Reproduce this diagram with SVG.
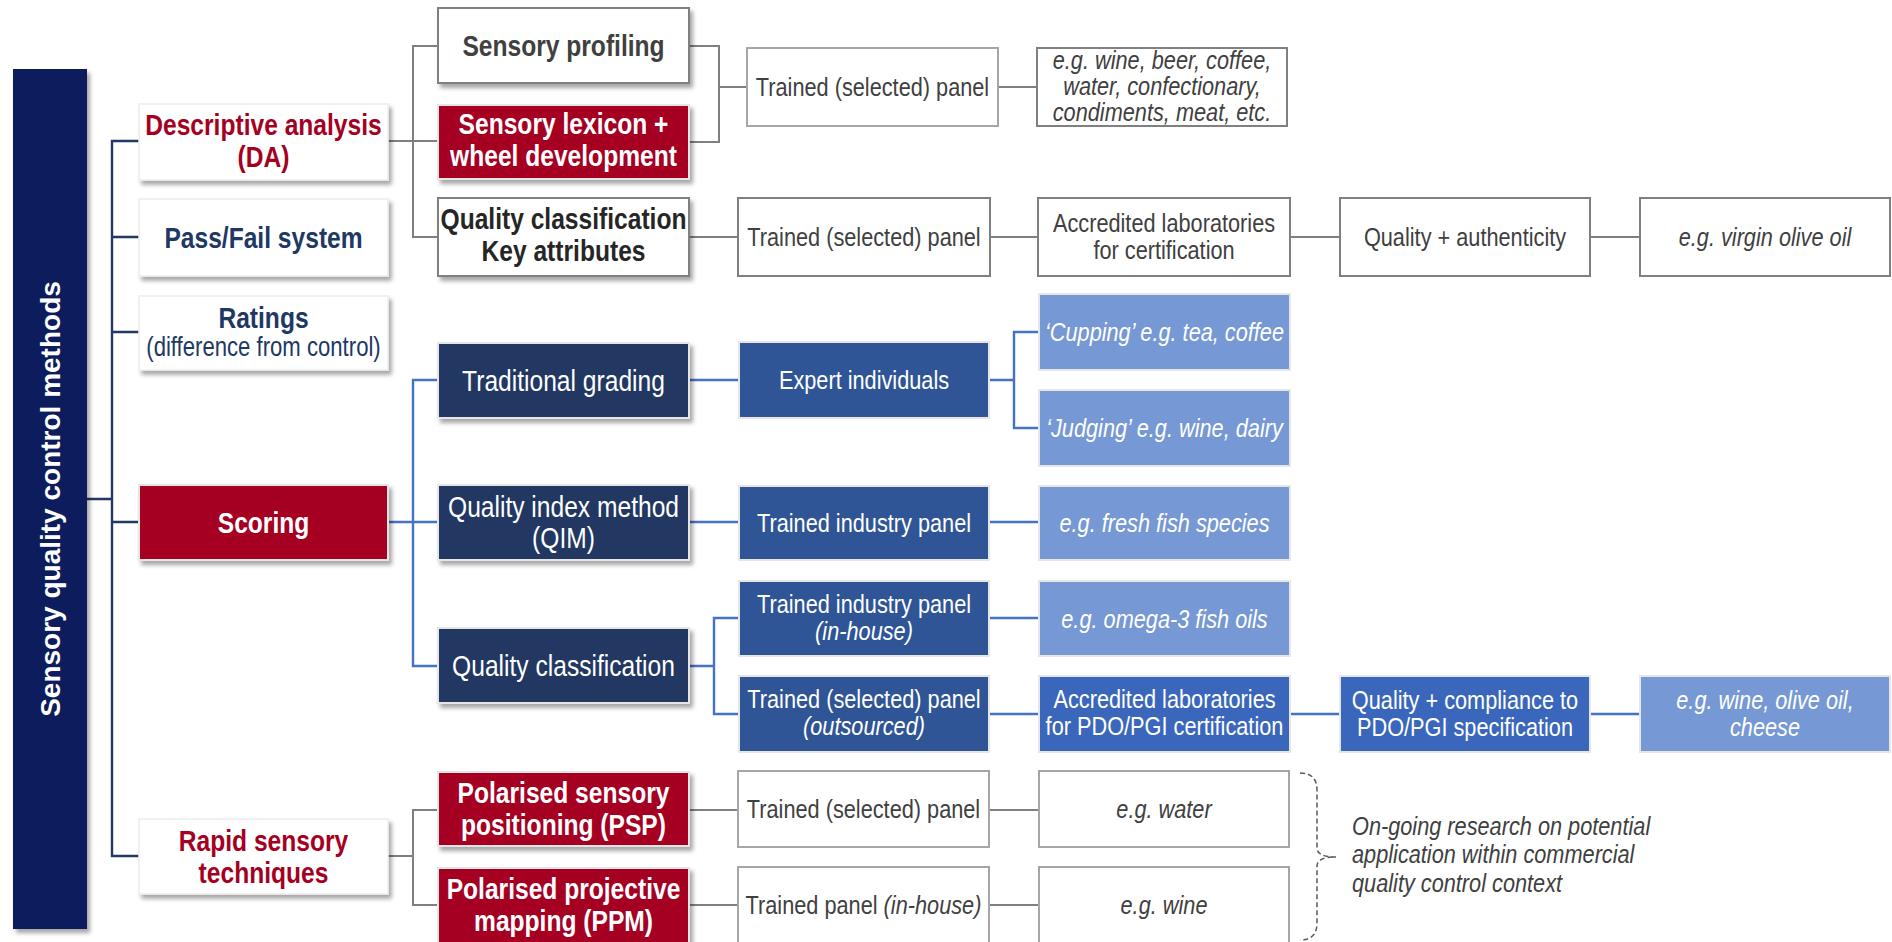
<svg xmlns="http://www.w3.org/2000/svg" width="1892" height="942" viewBox="0 0 1892 942">
<style>
text{font-family:"Liberation Sans",Arial,sans-serif;text-anchor:middle}
.b{font-weight:bold;font-size:30px}
.r{font-size:26.5px}
.rl{font-size:30px}
.i{font-style:italic;font-size:26.5px}
.red{fill:#A50021}.nav{fill:#203864}.wh{fill:#fff}.gr{fill:#404040}.dk{fill:#262626}
.c{fill:none;stroke-width:2}
.cg{stroke:#7F7F7F}.cb{stroke:#4472C4;stroke-width:2.4}.cn{stroke:#1F3864;stroke-width:2.4}
.bw{fill:#fff;stroke:#EDEDED;stroke-width:1.5}
.bo{fill:#fff;stroke:#808080;stroke-width:2}
.bl{fill:#fff;stroke:#A6A6A6;stroke-width:2}
.fr{fill:#A50021;stroke:#E6E6E6;stroke-width:2}
.fn{fill:#203864;stroke:#E6E6E6;stroke-width:2}
.fm{fill:#2F5597;stroke:#E6E6E6;stroke-width:2}
.fb{fill:#3A67BB;stroke:#E6E6E6;stroke-width:2}
.fl{fill:#7698D4;stroke:#E6E6E6;stroke-width:2}
</style>
<defs>
<filter id="sh" x="-10%" y="-10%" width="130%" height="140%">
<feDropShadow dx="3" dy="4" stdDeviation="2" flood-color="#000" flood-opacity="0.35"/>
</filter>
</defs>
<rect width="1892" height="942" fill="#fff"/>

<g id="connectors">
<path class="c cn" d="M87,499 H112 M139,141 H112 V856 H139 M112,237 H139 M112,332 H139 M112,522 H139"/>
<path class="c cg" d="M388,141 H438 M438,46 H413 V237 H438 M689,46 H719 V142 H689 M719,87 H747 M998,87 H1037 M689,237 H738 M990,237 H1038 M1290,237 H1340 M1590,237 H1640"/>
<path class="c cb" d="M388,522 H438 M438,380 H413 V666 H438 M689,380 H739 M989,380 H1014 M1039,332 H1014 V428 H1039 M689,522 H739 M989,522 H1039 M689,666 H714 M739,618 H714 V714 H739 M989,618 H1039 M989,714 H1039 M1290,714 H1340 M1590,714 H1640"/>
<path class="c cg" d="M388,856 H413 M438,810 H413 V905 H438 M689,810 H738 M989,810 H1039 M689,905 H738 M989,905 H1039"/>
<path fill="none" stroke="#595959" stroke-width="1.5" stroke-dasharray="5,3" d="M1300,773 Q1317,773 1317,790 V848 Q1317,857 1336,857 Q1317,857 1317,866 V923 Q1317,940 1300,940"/>
</g>

<g id="title">
<rect x="13" y="69" width="74" height="860" fill="#0B1F5C" filter="url(#sh)"/>
<text class="wh" font-weight="bold" font-size="28" transform="translate(60 499) rotate(-90)">Sensory quality control methods</text>
</g>

<g id="descriptive-analysis">
<rect class="bw" x="139" y="104" width="249" height="76" filter="url(#sh)"/>
<text class="b red" transform="translate(263.5 0) scale(.82 1)"><tspan x="0" y="135.5">Descriptive analysis</tspan><tspan x="0" y="167.5">(DA)</tspan></text>
</g>
<g id="pass-fail">
<rect class="bw" x="139" y="199" width="249" height="77" filter="url(#sh)"/>
<text class="b nav" transform="translate(263.5 0) scale(.82 1)" y="248">Pass/Fail system</text>
</g>
<g id="ratings">
<rect class="bw" x="139" y="296" width="249" height="74" filter="url(#sh)"/>
<text class="b nav" transform="translate(263.5 0) scale(.82 1)" y="328">Ratings</text>
<text class="nav" font-size="27" transform="translate(263.5 0) scale(.82 1)" y="356">(difference from control)</text>
</g>
<g id="scoring">
<rect class="fr" x="139" y="485" width="249" height="75" filter="url(#sh)"/>
<text class="b wh" transform="translate(263.5 0) scale(.82 1)" y="533">Scoring</text>
</g>
<g id="rapid">
<rect class="bw" x="139" y="819" width="249" height="75" filter="url(#sh)"/>
<text class="b red" transform="translate(263.5 0) scale(.82 1)"><tspan x="0" y="851">Rapid sensory</tspan><tspan x="0" y="883">techniques</tspan></text>
</g>

<g id="sensory-profiling">
<rect class="bo" x="438" y="8" width="251" height="75" filter="url(#sh)"/>
<text class="b gr" transform="translate(563.5 0) scale(.82 1)" y="56">Sensory profiling</text>
</g>
<g id="lexicon">
<rect class="fr" x="438" y="105" width="251" height="74" filter="url(#sh)"/>
<text class="b wh" transform="translate(563.5 0) scale(.82 1)"><tspan x="0" y="134">Sensory lexicon +</tspan><tspan x="0" y="166">wheel development</tspan></text>
</g>
<g id="quality-key">
<rect class="bo" x="438" y="198" width="251" height="78" filter="url(#sh)"/>
<text class="b dk" transform="translate(563.5 0) scale(.82 1)"><tspan x="0" y="229">Quality classification</tspan><tspan x="0" y="261">Key attributes</tspan></text>
</g>
<g id="traditional-grading">
<rect class="fn" x="438" y="343" width="251" height="75" filter="url(#sh)"/>
<text class="rl wh" transform="translate(563.5 0) scale(.82 1)" y="391">Traditional grading</text>
</g>
<g id="qim">
<rect class="fn" x="438" y="485" width="251" height="75" filter="url(#sh)"/>
<text class="rl wh" transform="translate(563.5 0) scale(.82 1)"><tspan x="0" y="517">Quality index method</tspan><tspan x="0" y="548">(QIM)</tspan></text>
</g>
<g id="quality-classification">
<rect class="fn" x="438" y="628" width="251" height="75" filter="url(#sh)"/>
<text class="rl wh" transform="translate(563.5 0) scale(.82 1)" y="676">Quality classification</text>
</g>
<g id="psp">
<rect class="fr" x="438" y="772" width="251" height="74" filter="url(#sh)"/>
<text class="b wh" transform="translate(563.5 0) scale(.82 1)"><tspan x="0" y="803">Polarised sensory</tspan><tspan x="0" y="835">positioning (PSP)</tspan></text>
</g>
<g id="ppm">
<rect class="fr" x="438" y="868" width="251" height="76" filter="url(#sh)"/>
<text class="b wh" transform="translate(563.5 0) scale(.82 1)"><tspan x="0" y="899">Polarised projective</tspan><tspan x="0" y="931">mapping (PPM)</tspan></text>
</g>

<g id="panel-1">
<rect class="bl" x="747" y="48" width="251" height="78"/>
<text class="r gr" transform="translate(872.5 0) scale(.82 1)" y="96">Trained (selected) panel</text>
</g>
<g id="examples-1">
<rect class="bo" x="1037" y="48" width="250" height="78"/>
<text class="i gr" transform="translate(1162 0) scale(.82 1)"><tspan x="0" y="69">e.g. wine, beer, coffee,</tspan><tspan x="0" y="95">water, confectionary,</tspan><tspan x="0" y="121">condiments, meat, etc.</tspan></text>
</g>
<g id="panel-2">
<rect class="bo" x="738" y="198" width="252" height="78"/>
<text class="r gr" transform="translate(864 0) scale(.82 1)" y="246">Trained (selected) panel</text>
</g>
<g id="accredited-1">
<rect class="bo" x="1038" y="198" width="252" height="78"/>
<text class="r gr" transform="translate(1164 0) scale(.82 1)"><tspan x="0" y="232">Accredited laboratories</tspan><tspan x="0" y="259">for certification</tspan></text>
</g>
<g id="quality-authenticity">
<rect class="bo" x="1340" y="198" width="250" height="78"/>
<text class="r gr" transform="translate(1465 0) scale(.82 1)" y="246">Quality + authenticity</text>
</g>
<g id="virgin-olive-oil">
<rect class="bo" x="1640" y="198" width="250" height="78"/>
<text class="i gr" transform="translate(1765 0) scale(.82 1)" y="246">e.g. virgin olive oil</text>
</g>

<g id="expert">
<rect class="fm" x="739" y="342" width="250" height="76"/>
<text class="r wh" transform="translate(864 0) scale(.82 1)" y="389.5">Expert individuals</text>
</g>
<g id="cupping">
<rect class="fl" x="1039" y="294" width="251" height="76"/>
<text class="i wh" transform="translate(1164.5 0) scale(.82 1)" y="341">‘Cupping’ e.g. tea, coffee</text>
</g>
<g id="judging">
<rect class="fl" x="1039" y="390" width="251" height="76"/>
<text class="i wh" transform="translate(1164.5 0) scale(.82 1)" y="437">‘Judging’ e.g. wine, dairy</text>
</g>
<g id="industry-panel">
<rect class="fm" x="739" y="486" width="250" height="74"/>
<text class="r wh" transform="translate(864 0) scale(.82 1)" y="532">Trained industry panel</text>
</g>
<g id="fresh-fish">
<rect class="fl" x="1039" y="486" width="251" height="74"/>
<text class="i wh" transform="translate(1164.5 0) scale(.82 1)" y="532">e.g. fresh fish species</text>
</g>
<g id="industry-inhouse">
<rect class="fm" x="739" y="581" width="250" height="75"/>
<text class="r wh" transform="translate(864 0) scale(.82 1)"><tspan x="0" y="613">Trained industry panel</tspan><tspan x="0" y="640" font-style="italic">(in-house)</tspan></text>
</g>
<g id="omega3">
<rect class="fl" x="1039" y="581" width="251" height="75"/>
<text class="i wh" transform="translate(1164.5 0) scale(.82 1)" y="628">e.g. omega-3 fish oils</text>
</g>
<g id="panel-outsourced">
<rect class="fm" x="739" y="676" width="250" height="76"/>
<text class="r wh" transform="translate(864 0) scale(.82 1)"><tspan x="0" y="708">Trained (selected) panel</tspan><tspan x="0" y="735" font-style="italic">(outsourced)</tspan></text>
</g>
<g id="accredited-pdo">
<rect class="fb" x="1039" y="676" width="251" height="76"/>
<text class="r wh" transform="translate(1164.5 0) scale(.82 1)"><tspan x="0" y="708">Accredited laboratories</tspan><tspan x="0" y="735">for PDO/PGI certification</tspan></text>
</g>
<g id="quality-compliance">
<rect class="fb" x="1340" y="676" width="250" height="76"/>
<text class="r wh" transform="translate(1465 0) scale(.82 1)"><tspan x="0" y="709">Quality + compliance to</tspan><tspan x="0" y="736">PDO/PGI specification</tspan></text>
</g>
<g id="wine-olive-cheese">
<rect class="fl" x="1640" y="676" width="250" height="76"/>
<text class="i wh" transform="translate(1765 0) scale(.82 1)"><tspan x="0" y="709">e.g. wine, olive oil,</tspan><tspan x="0" y="736">cheese</tspan></text>
</g>

<g id="panel-psp">
<rect class="bl" x="738" y="771" width="251" height="76"/>
<text class="r gr" transform="translate(863.5 0) scale(.82 1)" y="818">Trained (selected) panel</text>
</g>
<g id="water">
<rect class="bl" x="1039" y="771" width="250" height="76"/>
<text class="i gr" transform="translate(1164 0) scale(.82 1)" y="818">e.g. water</text>
</g>
<g id="panel-ppm">
<rect class="bl" x="738" y="867" width="251" height="77"/>
<text class="r gr" transform="translate(863.5 0) scale(.82 1)" y="914">Trained panel <tspan font-style="italic">(in-house)</tspan></text>
</g>
<g id="wine">
<rect class="bl" x="1039" y="867" width="250" height="77"/>
<text class="i gr" transform="translate(1164 0) scale(.82 1)" y="914">e.g. wine</text>
</g>

<g id="note">
<text class="i gr" text-anchor="start" style="text-anchor:start" transform="translate(1352 0) scale(.82 1)"><tspan x="0" y="835">On-going research on potential</tspan><tspan x="0" y="863">application within commercial</tspan><tspan x="0" y="892">quality control context</tspan></text>
</g>
</svg>
